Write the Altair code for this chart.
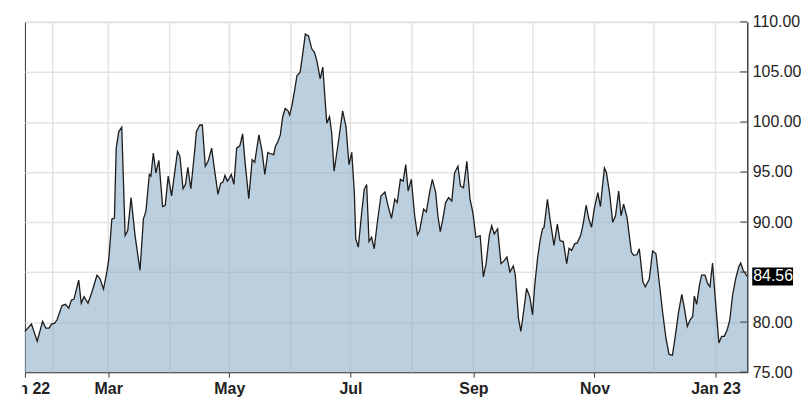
import altair as alt
import pandas as pd

# ---------------- data ----------------
START = "2022-01-18"          # first session shown
END = "2023-01-17"            # last session shown

# days since START for each turning point of the price line
day_offset = [
    0.0, 3.3, 6.2, 8.9, 10.5, 12.2, 13.4, 15.0, 16.2, 18.7, 20.4, 22.1, 23.4, 24.7,
    27.1, 28.4, 29.8, 31.8, 33.8, 36.3, 37.8, 39.6, 41.3, 42.3, 43.8, 45.1, 46.0,
    47.3, 48.8, 50.5, 51.8, 53.5, 55.5, 58.0, 59.7, 61.0, 62.7,
    63.5, 64.7, 66.0, 67.5, 69.4, 70.7, 72.2, 73.9, 76.9, 78.1, 79.7, 80.9, 82.1,
    83.6, 85.6, 86.4, 88.1, 89.4, 90.9, 92.3, 94.1, 95.3, 97.3, 98.6, 99.8, 100.8,
    102.0, 102.8, 104.0, 105.3, 106.7, 108.3, 109.7, 110.8, 112.8, 114.5, 115.8,
    117.9, 119.5, 120.9, 122.4, 123.7,
    125.4, 126.2, 127.5, 128.7, 129.9, 131.2, 132.6, 133.4, 134.6, 135.9, 137.1,
    138.7, 140.1, 141.3, 142.9, 144.6, 145.9, 147.1, 148.8, 150.1, 152.1, 153.5,
    154.6, 155.8, 158.0, 160.1, 161.8, 163.3, 164.7, 166.0, 166.7, 168.0, 169.7,
    171.0, 172.2, 173.4, 174.7, 176.0, 177.7, 179.4, 181.4, 183.0, 184.7, 186.4,
    187.6, 189.2, 190.6, 191.9, 193.1, 194.7, 196.4, 197.8, 198.9, 200.9, 202.3,
    203.9, 205.3, 207.0, 208.1, 209.3, 210.6, 212.0, 213.5, 215.1, 216.5, 218.2,
    219.5, 221.0, 222.7, 224.3, 225.7, 227.3, 229.4, 231.0, 232.4, 234.0, 235.2,
    236.5, 238.2, 239.9, 241.6, 242.9, 244.4, 246.1, 247.1, 248.7, 249.9,
    251.3, 252.8, 254.4, 255.8, 256.9, 258.3, 259.6, 260.8, 261.6, 263.3, 264.6,
    266.6, 268.3, 269.6, 271.3, 273.0, 274.2, 275.5, 277.0, 278.3, 280.0, 281.3,
    282.8, 284.2, 285.5, 287.0, 288.7, 290.0, 292.0, 293.0, 294.7, 296.2, 297.6,
    299.2, 300.4, 301.7, 303.4, 305.6, 306.8, 308.4, 309.6, 311.4, 312.6,
    314.6, 316.3, 318.0, 319.6, 321.3, 323.0, 324.6, 326.3, 327.6, 329.3, 331.0,
    332.3, 333.8, 335.2, 336.5, 337.3, 338.5, 339.9, 341.0, 342.7, 344.0, 345.2,
    346.5, 348.0, 349.7, 351.1, 352.4, 353.9, 355.2, 356.6, 358.2, 359.7, 360.7,
    361.9, 364.0,
]

price = [
    79.08, 79.80, 78.09, 80.07, 79.41, 79.41, 79.80, 79.90, 80.23, 81.65, 81.78, 81.39, 82.21, 82.28,
    84.19, 81.88, 82.54, 81.88, 83.04, 84.69, 84.36, 83.30, 85.02, 86.34, 90.30, 90.40, 97.39,
    99.04, 99.47, 88.65, 89.14, 92.44, 88.65, 85.18, 90.30, 91.12, 94.75,
    94.59, 96.90, 94.92, 96.17, 91.55, 91.68, 94.59, 92.61, 97.06, 96.57, 93.33, 93.76, 95.48,
    93.33, 97.23, 99.04, 99.70, 99.70, 95.58, 96.07, 97.39, 95.58, 92.77, 93.86, 93.99, 94.65,
    94.09, 94.32, 94.75, 93.76, 97.39, 97.62, 98.81, 96.24, 92.34, 96.24, 95.97,
    98.71, 97.06, 94.75, 96.96, 96.83,
    96.73, 97.56, 98.05, 98.71, 100.53, 101.35, 101.12, 100.69, 101.68, 103.17, 104.65,
    104.98, 106.96, 108.78, 108.61, 107.29, 106.96, 106.14, 104.32, 105.48, 99.87, 100.53,
    98.88, 95.08, 98.05, 101.12, 99.54, 95.74, 96.96, 92.94, 88.32, 87.49, 90.96,
    93.27, 93.76, 88.05, 88.48, 87.33, 90.13, 92.61, 93.00, 91.62, 90.36, 92.28,
    91.95, 94.26, 94.09, 95.74, 93.10, 94.26, 90.63, 88.71, 89.14, 91.29, 91.02,
    92.94, 94.26, 92.94, 90.63, 89.04, 90.30, 91.95, 92.44, 92.11, 94.92, 95.58,
    93.60, 93.43, 96.07, 92.28, 90.96, 88.48, 88.65, 84.52, 85.84, 88.65, 89.64,
    88.81, 89.31, 85.84, 86.17, 86.50, 85.02, 85.61, 84.69, 80.40, 79.08,
    81.06, 83.37, 82.54, 80.73, 83.70, 86.34, 88.15, 89.31, 89.47, 92.28, 90.30,
    87.66, 89.80, 88.15, 88.05, 85.84, 87.39, 87.16, 87.82, 87.92, 88.65, 89.80,
    91.68, 90.30, 89.47, 91.45, 92.94, 91.55, 95.41, 94.98, 92.77, 89.97, 90.63,
    93.10, 90.63, 91.78, 90.46, 87.00, 86.67, 86.73, 87.33, 84.03, 83.53,
    84.29, 87.10, 86.83, 84.03, 81.06, 78.42, 76.77, 76.70, 78.42, 80.89, 82.77,
    81.39, 79.57, 80.23, 80.56, 82.61, 81.78, 83.70, 84.69, 84.69, 83.86, 83.53,
    85.91, 82.05, 77.92, 78.58, 78.58, 79.24, 80.23, 82.71, 84.36, 85.51, 85.91,
    85.18, 84.56,
]

month_starts = [
    "2022-02-01", "2022-03-01", "2022-04-01", "2022-05-01", "2022-06-01", "2022-07-01",
    "2022-08-01", "2022-09-01", "2022-10-01", "2022-11-01", "2022-12-01", "2023-01-01",
]
label_dates = [START, "2022-03-01", "2022-05-01", "2022-07-01", "2022-09-01",
               "2022-11-01", "2023-01-01"]
y_ticks = [75, 80, 85, 90, 95, 100, 105, 110]

# ---------------- chart ----------------
W, H = 726, 352
FONT = "Liberation Sans"
GRID = "#e3e3e3"
FRAME = "#333333"


def dt(s):
    y, m, d = (int(p) for p in s.split("-"))
    return alt.DateTime(year=y, month=m, date=d, utc=True)


base = pd.Timestamp(START)
df = pd.DataFrame({
    "date": (base + pd.to_timedelta(day_offset, unit="D")).strftime("%Y-%m-%dT%H:%M:%SZ"),
    "price": price,
})
last = price[-1]
hidden = [t for t in y_ticks if abs(t - last) < 2.0]
hide_expr = " || ".join(f"datum.value == {t}" for t in hidden) or "false"

x_enc = alt.X(
    "date:T",
    scale=alt.Scale(type="utc", domain=[dt(START), dt(END)]),
    axis=alt.Axis(
        values=[dt(s) for s in label_dates],
        labelExpr="utcFormat(datum.value, '%m') == '01' ? utcFormat(datum.value, '%b %y') : utcFormat(datum.value, '%b')",
        title=None, grid=False, ticks=True, tickSize=5, tickColor=FRAME,
        domainColor=FRAME, labelFont=FONT, labelFontSize=16, labelFontWeight="bold",
        labelColor="#222222", labelPadding=3, labelFlush=False, labelOverlap=False,
    ),
)
y_enc = alt.Y(
    "price:Q",
    scale=alt.Scale(domain=[75, 110], zero=False, nice=False),
    axis=alt.Axis(
        orient="right", values=y_ticks, title=None, ticks=False, tickSize=0,
        labelPadding=5, grid=True, gridColor=GRID, gridWidth=1.5, domainColor=FRAME,
        labelFont=FONT, labelFontSize=16, labelColor="#222222",
        labelExpr=f"({hide_expr}) ? '' : format(datum.value, '.2f')",
    ),
)

grid_df = pd.DataFrame({"date": [s + "T00:00:00Z" for s in month_starts]})
month_grid = alt.Chart(grid_df).mark_rule(color=GRID, strokeWidth=1.5).encode(x=x_enc)

area = alt.Chart(df).mark_area(color="#8fafc8", opacity=0.6).encode(
    x=x_enc, y=y_enc, y2=alt.datum(75)
)
line = alt.Chart(df).mark_line(color="#1c1c1c", strokeWidth=1.3).encode(x=x_enc, y=y_enc)

tick_df = pd.DataFrame({"price": y_ticks})
inner_ticks = alt.Chart(tick_df).mark_rule(color=FRAME, strokeWidth=1).encode(
    y=y_enc, x=alt.value(W - 7), x2=alt.value(W)
)

last_df = pd.DataFrame({"price": [last], "label": [f"{last:.2f}"]})
last_box = alt.Chart(last_df).mark_rule(color="black", strokeWidth=18, strokeCap="butt").encode(
    y=y_enc, x=alt.value(W + 5), x2=alt.value(W + 46)
)
last_text = alt.Chart(last_df).mark_text(
    align="left", baseline="middle", font=FONT, fontSize=16, color="white"
).encode(y=y_enc, x=alt.value(W + 6), text="label:N")

# the reference clips the first month label just left of the plot frame
label_clip = alt.Chart(pd.DataFrame({"k": [0]})).mark_rect(color="white").encode(
    x=alt.value(-17), x2=alt.value(-3), y=alt.value(H + 6), y2=alt.value(H + 30)
)

chart = (
    alt.layer(month_grid, area, line, inner_ticks, last_box, last_text, label_clip)
    .properties(
        width=W, height=H,
        autosize=alt.AutoSizeParams(type="none"),
        padding={"left": 17, "top": 13, "right": 54, "bottom": 28},
    )
    .configure_view(stroke=FRAME, strokeWidth=1)
)

chart.save("out.html", embed_options={"renderer": "svg", "actions": False})
